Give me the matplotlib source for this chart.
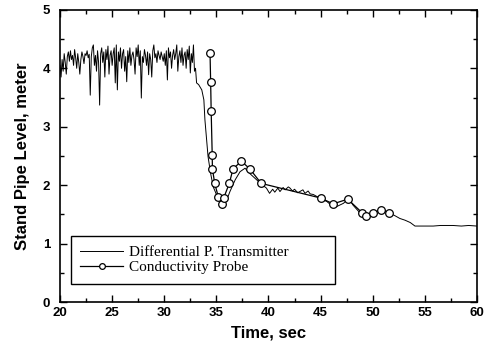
import matplotlib
matplotlib.use("Agg")
import matplotlib.pyplot as plt
import numpy as np
from matplotlib.ticker import MultipleLocator

# Differential P. Transmitter: noisy section 20.0-32.9 s (0.1 s steps)
noise_start = 20.0
noise_vals = [
    4.05, 3.85, 4.15, 3.95, 4.25, 4.10, 3.90, 4.20, 4.28, 4.12,
    4.30, 4.15, 4.22, 4.05, 4.32, 4.18, 4.00, 4.25, 4.10, 3.90,
    4.15, 4.28, 4.20, 4.08, 4.25, 4.22, 4.30, 4.18, 4.24, 3.54,
    4.20, 4.35, 4.40, 4.05, 4.22, 3.95, 4.30, 4.10, 3.37, 4.25,
    4.35, 4.10, 4.28, 3.85, 4.32, 4.15, 4.38, 3.90, 4.22, 4.30,
    4.05, 4.25, 4.35, 3.75, 4.40, 3.63, 4.28, 4.12, 4.35, 4.00,
    4.25, 4.32, 3.95, 4.20, 3.77, 4.30, 4.10, 4.35, 4.05, 4.22,
    4.28, 4.15, 3.90, 4.35, 4.20, 4.40, 4.05, 4.30, 3.49, 4.20,
    4.10, 4.32, 4.22, 4.05, 4.28, 3.89, 4.25, 4.15, 3.85, 4.30,
    4.40, 4.18, 4.25, 4.10, 4.30, 4.22, 4.15, 4.28, 4.20, 4.12,
    4.25, 4.05, 4.30, 3.80, 4.35, 4.18, 4.28, 4.00, 4.22, 4.32,
    4.15, 4.25, 4.40, 3.95, 4.20, 4.30, 4.10, 4.35, 4.05, 4.22,
    4.28, 4.00, 4.32, 4.15, 4.38, 3.92, 4.25, 4.10, 4.40, 3.95,
]
# Differential P. Transmitter: rest of record
dpt_t = [33.0, 33.1, 33.3, 33.6, 33.8, 33.9, 34.07, 34.2, 34.45, 34.7, 35.1,
         35.6, 36.0, 36.3, 36.8, 37.27, 37.75, 38.2, 38.87, 39.3, 39.8, 40.1,
         40.4, 40.6, 40.9, 41.1, 41.4, 41.6, 41.9, 42.06, 42.3, 42.5, 42.8,
         43.0, 43.3, 43.5, 43.8, 44.0, 44.3, 44.6, 45.1, 45.6, 46.0, 46.5,
         47.2, 47.7, 48.1, 48.8, 49.4, 49.9, 50.4, 51.0, 51.65, 52.1, 52.6,
         53.1, 53.6, 54.05, 54.8, 55.8, 56.5, 57.7, 58.5, 59.2, 60.0]
dpt_v = [4.00, 3.75, 3.72, 3.63, 3.46, 3.12, 2.77, 2.49, 2.20, 1.97, 1.80,
         1.60, 1.75, 1.89, 2.09, 2.23, 2.29, 2.20, 2.09, 2.02, 1.95, 1.86,
         1.93, 1.88, 1.95, 1.89, 1.96, 1.92, 1.97, 1.95, 1.90, 1.93, 1.87,
         1.89, 1.92, 1.86, 1.90, 1.85, 1.84, 1.81, 1.76, 1.72, 1.66, 1.63,
         1.69, 1.78, 1.66, 1.52, 1.46, 1.51, 1.55, 1.56, 1.52, 1.48, 1.43,
         1.40, 1.36, 1.30, 1.30, 1.30, 1.31, 1.31, 1.30, 1.31, 1.30]

# Conductivity Probe
cp_t = [34.39, 34.45, 34.5, 34.6, 34.62, 34.84, 35.2, 35.5, 35.7, 36.24,
        36.6, 37.4, 38.2, 39.3, 45.0, 46.2, 47.6, 48.97, 49.4, 50.0, 50.76, 51.6]
cp_v = [4.27, 3.77, 3.27, 2.52, 2.28, 2.03, 1.79, 1.68, 1.78, 2.03,
        2.28, 2.41, 2.28, 2.03, 1.78, 1.68, 1.76, 1.53, 1.47, 1.52, 1.58, 1.53]

noise_t = noise_start + 0.1 * np.arange(len(noise_vals))
t_all = np.concatenate([noise_t, dpt_t])
v_all = np.concatenate([noise_vals, dpt_v])

fig = plt.figure(figsize=(4.84, 3.52), dpi=100)
ax = fig.add_axes([0.124, 0.142, 0.8615, 0.830])

ax.plot(t_all, v_all, color="black", lw=0.7, label="Differential P. Transmitter")
ax.plot(cp_t, cp_v, color="black", lw=0.9, marker="o", ms=5.5,
        mfc="white", mec="black", mew=0.9, label="Conductivity Probe")

ax.set_xlim(20, 60)
ax.set_ylim(0, 5)
ax.xaxis.set_major_locator(MultipleLocator(5))
ax.xaxis.set_minor_locator(MultipleLocator(2.5))
ax.yaxis.set_major_locator(MultipleLocator(1))
ax.yaxis.set_minor_locator(MultipleLocator(0.5))
ax.tick_params(which="both", direction="in", top=True, right=True,
               labelsize=9.5, width=1.0)
ax.tick_params(which="major", length=5)
ax.tick_params(which="minor", length=3)
ax.tick_params(axis="y", pad=7)
for lab in ax.get_xticklabels() + ax.get_yticklabels():
    lab.set_fontweight("bold")
    lab.set_family("Liberation Sans")
for s in ax.spines.values():
    s.set_linewidth(1.2)

ax.set_xlabel("Time, sec", fontsize=12, fontweight="bold",
              family="Liberation Sans", labelpad=5)
ax.set_ylabel("Stand Pipe Level, meter", fontsize=12, fontweight="bold",
              family="Liberation Sans", labelpad=9)

leg = ax.legend(loc="lower left", bbox_to_anchor=(0.026, 0.062, 0.633, 0.168),
                mode="expand", prop={"family": "Liberation Serif", "size": 11},
                frameon=True, fancybox=False, edgecolor="black", framealpha=1,
                handlelength=2.8, handletextpad=0.4, borderpad=0.62,
                labelspacing=0.12, borderaxespad=0, markerscale=0.75)
leg.get_frame().set_linewidth(1.0)

fig.savefig("out.png", dpi=100)
